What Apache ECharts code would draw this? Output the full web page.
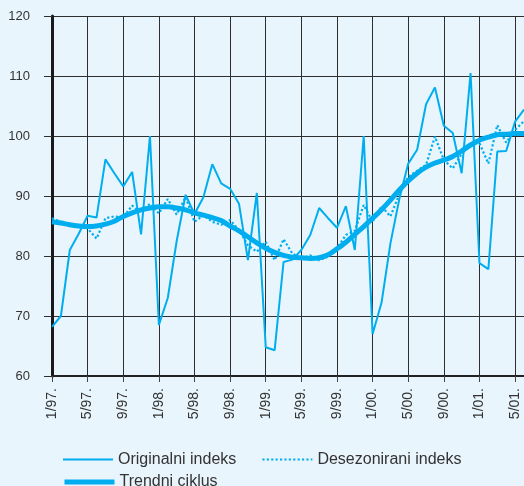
<!DOCTYPE html>
<html>
<head>
<meta charset="utf-8">
<script src="https://cdn.jsdelivr.net/npm/echarts@6/dist/echarts.min.js"></script>
<style>
html,body{margin:0;padding:0;background:#e9f5fc;}
#chart{width:524px;height:486px;}
</style>
</head>
<body>
<div id="chart"></div>
<script>
const months = [
  "1/97.","2/97.","3/97.","4/97.","5/97.","6/97.","7/97.","8/97.","9/97.","10/97.","11/97.","12/97.",
  "1/98.","2/98.","3/98.","4/98.","5/98.","6/98.","7/98.","8/98.","9/98.","10/98.","11/98.","12/98.",
  "1/99.","2/99.","3/99.","4/99.","5/99.","6/99.","7/99.","8/99.","9/99.","10/99.","11/99.","12/99.",
  "1/00.","2/00.","3/00.","4/00.","5/00.","6/00.","7/00.","8/00.","9/00.","10/00.","11/00.","12/00.",
  "1/01.","2/01.","3/01.","4/01.","5/01.","6/01."
];
const yTicks = [60, 70, 80, 90, 100, 110, 120];

const originalni = [
  68.2, 70.0, 81.0, 83.7, 86.7, 86.4, 96.1, 93.8, 91.6, 94.0, 83.6, 100.0,
  68.5, 73.0, 82.5, 90.2, 87.0, 89.8, 95.3, 92.1, 91.2, 88.7, 79.3, 90.5,
  64.8, 64.3, 79.0, 79.4, 81.0, 83.5, 88.0, 86.3, 84.7, 88.3, 81.0, 100.0,
  67.0, 72.2, 82.1, 89.5, 95.4, 97.7, 105.3, 108.1, 101.7, 100.5, 93.8, 110.5,
  78.8, 77.8, 97.4, 97.5, 102.4, 104.4
];
const desezonirani = [
  86.3, 85.7, 85.2, 85.0, 84.6, 82.9, 86.3, 86.6, 86.4, 88.4, 87.2, 88.7,
  87.1, 89.5, 86.9, 89.8, 85.7, 86.8, 85.7, 85.2, 86.0, 84.3, 81.8, 80.7,
  82.4, 79.3, 82.8, 80.4, 79.6, 80.1, 79.3, 79.9, 81.3, 83.5, 84.2, 88.5,
  85.7, 88.3, 86.6, 90.3, 93.2, 94.2, 95.2, 99.9, 96.0, 94.6, 97.0, 98.8,
  98.8, 95.4, 101.8, 98.9, 101.0, 102.5
];
const trendni = [
  85.7, 85.5, 85.2, 85.0, 84.9, 85.0, 85.3, 85.8, 86.6, 87.2, 87.7, 88.0,
  88.2, 88.2, 88.0, 87.7, 87.2, 86.8, 86.4, 85.9, 85.0, 84.2, 83.2, 82.2,
  81.3, 80.6, 80.1, 79.8, 79.7, 79.6, 79.7, 80.2, 81.2, 82.3, 83.6, 84.9,
  86.3, 87.7, 89.3, 91.0, 92.5, 93.8, 94.8, 95.5, 96.0, 96.6, 97.5, 98.5,
  99.3, 99.8, 100.2, 100.3, 100.4, 100.4
];

const names = ["Originalni indeks", "Desezonirani indeks", "Trendni ciklus"];
const blue = "#00aeef";
const txt = "#333333";
const gridCol = "#2e2e2e";
const hideSym = {opacity: 0, color: "transparent", borderWidth: 0};

const chart = echarts.init(document.getElementById("chart"), null, {renderer: "canvas"});
chart.setOption({
  backgroundColor: "#e9f5fc",
  animation: false,
  textStyle: {fontFamily: "Liberation Sans, Arial, sans-serif"},
  grid: {left: 52, top: 16, width: 474.4, height: 360, containLabel: false},
  legend: [
    {
      orient: "horizontal", left: 57, top: 446.5, itemWidth: 50, itemHeight: 14, itemGap: 25,
      textStyle: {color: txt, fontSize: 16},
      data: [
        {name: names[0], itemStyle: hideSym, lineStyle: {color: blue, width: 2, type: "solid"}},
        {name: names[1], itemStyle: hideSym, lineStyle: {color: blue, width: 2.2, type: "dotted"}}
      ]
    },
    {
      orient: "horizontal", left: 57, top: 469, itemWidth: 50, itemHeight: 14,
      textStyle: {color: txt, fontSize: 16},
      data: [
        {name: names[2], itemStyle: hideSym, lineStyle: {color: blue, width: 5, type: "solid"}}
      ]
    }
  ],
  xAxis: {
    type: "category",
    data: months,
    boundaryGap: false,
    axisLine: {show: true, lineStyle: {color: "#222", width: 2}},
    axisTick: {show: true, interval: 3, length: 6, lineStyle: {color: "#444", width: 1}},
    axisLabel: {interval: 3, rotate: 90, margin: 12, color: txt, fontSize: 14},
    splitLine: {show: true, interval: 3, lineStyle: {color: gridCol, width: 1}}
  },
  yAxis: {
    type: "value",
    min: yTicks[0],
    max: yTicks[yTicks.length - 1],
    interval: 10,
    axisLine: {show: true, lineStyle: {color: "#1a1a1a", width: 3}},
    axisTick: {show: true, length: 8, lineStyle: {color: gridCol, width: 1}},
    axisLabel: {margin: 22, color: txt, fontSize: 13, align: "right"},
    splitLine: {show: true, lineStyle: {color: gridCol, width: 1}}
  },
  series: [
    {
      name: names[0], type: "line", data: originalni, symbol: "none",
      lineStyle: {color: blue, width: 2}, itemStyle: {color: blue}, z: 3
    },
    {
      name: names[1], type: "line", data: desezonirani, symbol: "none",
      lineStyle: {color: blue, width: 2.2, type: "dotted"}, itemStyle: {color: blue}, z: 4
    },
    {
      name: names[2], type: "line", data: trendni, symbol: "none", smooth: 0.3,
      lineStyle: {color: blue, width: 5}, itemStyle: {color: blue}, z: 5
    }
  ]
});
</script>
</body>
</html>
